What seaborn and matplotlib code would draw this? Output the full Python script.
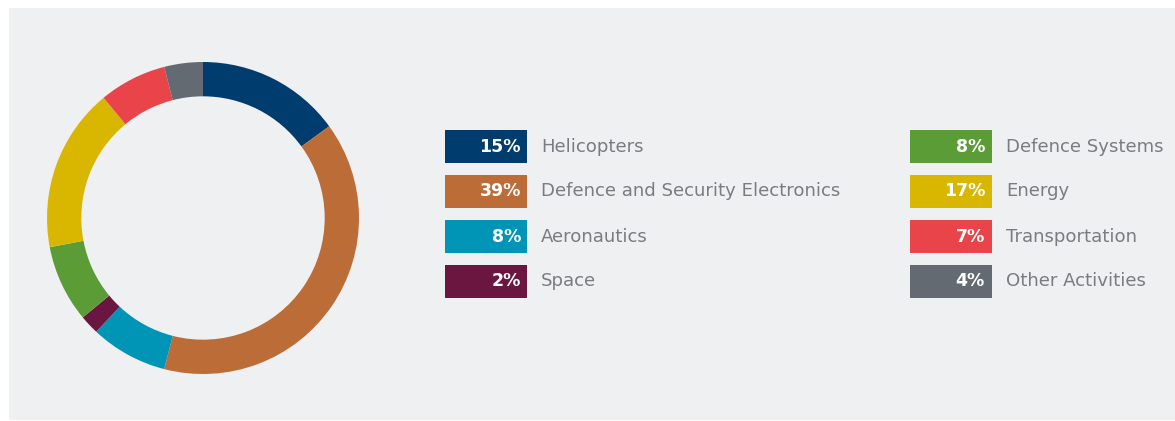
import matplotlib
matplotlib.use("Agg")
import matplotlib.pyplot as plt
from matplotlib.patches import Rectangle
import seaborn as sns

# Revenue breakdown by activity (share of total, %)
segments = ["Helicopters", "Defence and Security Electronics", "Aeronautics", "Space",
            "Defence Systems", "Energy", "Transportation", "Other Activities"]
shares = [15, 39, 8, 2, 8, 17, 7, 4]
colors = ["#003d6e", "#bc6c37", "#0095b6", "#6b1541",
          "#5c9c36", "#d9b700", "#e8444a", "#636a72"]
share_labels = [f"{v}%" for v in shares]

sns.set_theme(style="white")
plt.rcParams["font.family"] = ["DejaVu Sans"]

W, H = 1175, 421
fig = plt.figure(figsize=(W / 100, H / 100), dpi=100, facecolor="white")

# light grey panel behind everything
fig.patches.append(Rectangle((9 / W, 1 / H), 1 - 9 / W, (420 - 8) / H,
                             transform=fig.transFigure, facecolor="#eff0f2",
                             edgecolor="none", zorder=-5))

# donut
cx, cy, r = 203, 218, 156
ax = fig.add_axes([(cx - r) / W, (H - cy - r) / H, 2 * r / W, 2 * r / H])
ax.set_zorder(1)
ax.set_facecolor("none")
palette = sns.color_palette(colors)
ax.pie(shares, colors=palette, startangle=90, counterclock=False, radius=1.0,
       wedgeprops=dict(width=0.22, edgecolor="none", linewidth=0))
ax.set_xlim(-1.0, 1.0)
ax.set_ylim(-1.0, 1.0)
ax.set_aspect("equal")
ax.axis("off")

# legend: two columns of four rows
row_y = [146.5, 191.5, 236.5, 281.5]
columns = [dict(box_x=445, pct_x=521, text_x=541), dict(box_x=910, pct_x=985, text_x=1006)]
box_w, box_h = 82, 33
for i, (name, lab, col) in enumerate(zip(segments, share_labels, palette)):
    c = columns[i // 4]
    yc = row_y[i % 4]
    fig.patches.append(Rectangle((c["box_x"] / W, (H - yc - box_h / 2) / H),
                                 box_w / W, box_h / H, transform=fig.transFigure,
                                 facecolor=col, edgecolor="none", zorder=2))
    fig.text(c["pct_x"] / W, (H - yc) / H, lab, color="white", fontsize=12.5,
             fontweight="bold", ha="right", va="center", zorder=3)
    fig.text(c["text_x"] / W, (H - yc) / H, name, color="#797c80", fontsize=13.1,
             ha="left", va="center", zorder=3)

fig.savefig("out.png", dpi=100, facecolor=fig.get_facecolor())
